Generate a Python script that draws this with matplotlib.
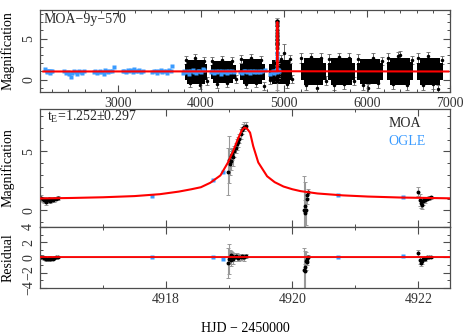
import numpy as np
import matplotlib.pyplot as plt
from matplotlib.ticker import MultipleLocator

plt.rcParams['font.family'] = ['Liberation Serif', 'DejaVu Serif']
plt.rcParams['mathtext.fontset'] = 'custom'
plt.rcParams['mathtext.rm'] = 'Liberation Serif'
plt.rcParams['mathtext.it'] = 'Liberation Serif:italic'
plt.rcParams['axes.unicode_minus'] = True

BLUE = '#3a9bff'

# ---------------------------------------------------------------------
# Data
# ---------------------------------------------------------------------
# model light curve (HJD-2450000, magnification)
model_t = [4916.0, 4916.5, 4917.0, 4917.5, 4917.9, 4918.2, 4918.4, 4918.55,
           4918.7, 4918.86, 4918.98, 4919.06, 4919.14, 4919.2, 4919.24,
           4919.28, 4919.33, 4919.38, 4919.46, 4919.6, 4919.72, 4919.86,
           4920.0, 4920.13, 4920.4, 4920.8, 4921.2, 4921.7, 4922.5]
model_a = [1.02, 1.06, 1.12, 1.22, 1.38, 1.6, 1.8, 1.97,
           2.35, 2.97, 4.07, 5.0, 6.1, 6.8, 7.03,
           6.95, 6.6, 5.45, 4.07, 2.9, 2.4, 2.03,
           1.8, 1.64, 1.44, 1.28, 1.18, 1.1, 1.03]
baseline_t = [2100, 6980]
baseline_a = [1.0, 1.0]

# MOA points around the event
moa_t = [4916.02, 4916.04, 4916.06, 4916.08, 4916.10, 4916.12, 4916.14,
         4916.16, 4916.18, 4916.20, 4916.22, 4916.25, 4916.28,
         4918.98, 4919.00, 4919.01, 4919.02, 4919.03, 4919.05, 4919.06,
         4919.08, 4919.10, 4919.12, 4919.14, 4919.16, 4919.18, 4919.20,
         4919.22, 4919.24, 4919.26,
         4920.19, 4920.195, 4920.20, 4920.21, 4920.23, 4920.24, 4920.25,
         4922.00, 4922.02, 4922.04, 4922.05, 4922.07, 4922.09, 4922.11,
         4922.14, 4922.17, 4922.20]
moa_a = [1.05, 0.95, 0.85, 0.9, 0.75, 0.85, 0.95,
         0.8, 0.9, 0.85, 0.95, 1.0, 1.05,
         3.3, 4.3, 3.9, 4.6, 4.2, 4.8, 4.5,
         5.0, 5.3, 5.6, 5.8, 6.1, 6.5, 6.8,
         7.0, 7.1, 7.2,
         0.05, -0.2, 0.4, 0.0, 0.95, 1.35, 1.6,
         1.6, 0.9, 0.6, 0.45, 0.8, 0.95, 0.85,
         1.0, 1.05, 1.1]
moa_err = [0.25, 0.2, 0.2, 0.2, 0.25, 0.2, 0.2,
           0.2, 0.2, 0.15, 0.2, 0.15, 0.15,
           2.0, 2.0, 0.9, 0.6, 0.8, 0.5, 0.7,
           0.5, 0.4, 0.5, 0.4, 0.4, 0.4, 0.3,
           0.3, 0.4, 0.3,
           2.9, 2.6, 0.5, 1.2, 0.4, 0.3, 0.2,
           0.4, 0.5, 0.4, 0.3, 0.3, 0.2, 0.2,
           0.15, 0.15, 0.15]
moa_res = [0.1, 0.0, -0.1, -0.05, -0.25, -0.15, -0.05,
           -0.2, -0.1, -0.15, -0.05, 0.0, 0.05,
           -0.7, -0.2, 0.1, 0.3, -0.3, 0.2, -0.2,
           0.1, 0.2, 0.1, -0.1, 0.0, 0.1, 0.2,
           0.1, 0.0, 0.2,
           -1.6, -1.8, -1.3, -0.5, -0.6, -0.2, 0.1,
           0.6, -0.3, -0.7, -0.5, -0.2, -0.1, -0.2,
           0.0, 0.05, 0.1]

# OGLE points around the event
ogle_t = [4917.78, 4918.75, 4918.90, 4920.72, 4921.76]
ogle_a = [1.2, 2.6, 3.3, 1.3, 1.12]
ogle_res = [0.05, 0.12, -0.2, 0.1, 0.2]

# 9-year light curve: OGLE (blue) points
ogle_long_t = [2125, 2140, 2150, 2160, 2172, 2185, 2198, 2210,
               2345, 2370, 2395, 2410, 2430, 2450, 2470, 2490, 2510, 2530, 2550, 2570, 2590,
               2705, 2725, 2745, 2765, 2785, 2805, 2825, 2845, 2865, 2885, 2905, 2925, 2950,
               3055, 3075, 3095, 3115, 3135, 3155, 3175, 3195, 3215, 3235, 3255, 3275, 3295,
               3415, 3435, 3455, 3475, 3495, 3515, 3535, 3555, 3575, 3595, 3615, 3635, 3655,
               3780, 3800, 3820, 3840, 3860, 3880, 3900, 3920, 3940, 3960, 3980, 4000, 4020, 4040,
               4115, 4135, 4155, 4175, 4195, 4215, 4235, 4255, 4275, 4295, 4315, 4335, 4355, 4375, 4400,
               4475, 4495, 4515, 4535, 4555, 4575, 4595, 4615, 4635, 4655, 4675, 4695, 4715, 4735, 4765,
               4835, 4850, 4865, 4880, 4895, 4910, 4925, 4940]
ogle_long_a = [1.3, 1.0, 0.9, 1.1, 1.0, 0.85, 1.0, 1.05,
               1.0, 0.85, 0.9, 0.75, 0.35, 0.8, 1.0, 0.9, 0.7, 1.1, 0.95, 0.85, 1.0,
               0.9, 1.0, 0.8, 0.95, 1.1, 0.9, 0.75, 1.2, 1.0, 0.9, 1.1, 1.0, 1.5,
               1.0, 1.1, 0.9, 1.2, 1.0, 1.15, 0.95, 1.3, 1.1, 1.0, 1.2, 0.9, 1.05,
               0.9, 1.0, 1.1, 0.8, 1.0, 1.2, 0.9, 1.1, 1.0, 0.85, 1.2, 1.1, 1.7,
               0.8, 1.0, 0.9, 1.1, 0.7, 1.0, 1.2, 0.9, 0.8, 1.0, 1.1, 0.9, 1.3, 1.2,
               0.9, 1.0, 0.8, 1.1, 0.9, 1.0, 0.75, 1.1, 0.9, 1.0, 0.85, 1.1, 0.95, 1.0, 0.9,
               0.9, 0.8, 1.0, 1.1, 0.9, 1.0, 0.85, 1.1, 0.9, 1.0, 0.95, 1.1, 0.9, 1.0, 1.2,
               0.7, 0.9, 1.0, 0.8, 1.1, 0.9, 1.2, 1.0]

# 9-year light curve: MOA seasons (dense black clouds)
# wide, shorter part of each cloud
moa_season_start = [3805, 4115, 4465, 4815, 5200, 5535, 5885, 6245, 6605]
moa_season_end = [4075, 4425, 4765, 5100, 5510, 5850, 6190, 6550, 6910]
moa_wide_lo = [0.0, 0.05, 0.0, 0.0, -0.05, -0.05, 0.0, -0.05, -0.05]
moa_wide_hi = [1.9, 1.85, 1.95, 1.9, 2.05, 2.05, 2.0, 2.1, 2.05]
# narrower, taller middle part of each cloud
moa_mid_start = [3835, 4150, 4500, 4850, 5235, 5570, 5920, 6280, 6640]
moa_mid_end = [4045, 4390, 4730, 5070, 5475, 5815, 6155, 6515, 6875]
moa_mid_lo = [-0.5, -0.4, -0.5, -0.5, -0.6, -0.6, -0.5, -0.6, -0.6]
moa_mid_hi = [2.4, 2.3, 2.5, 2.4, 2.6, 2.6, 2.5, 2.7, 2.6]

# a few scattered MOA points with error bars at the cloud edges
moa_edge_t = [3820, 3870, 3930, 3990, 4040, 4070,
              4130, 4190, 4250, 4310, 4370, 4420,
              4480, 4540, 4600, 4660, 4720, 4760,
              4830, 4960, 5000, 5040, 5070, 5100,
              5210, 5270, 5330, 5400, 5450, 5500,
              5545, 5600, 5660, 5720, 5780, 5840,
              5895, 5950, 6010, 6070, 6130, 6185,
              6255, 6310, 6370, 6400, 6480, 6545,
              6615, 6680, 6740, 6800, 6860, 6905]
moa_edge_a = [2.4, -0.4, 2.6, -0.6, 2.3, -0.2,
              2.3, -0.5, 2.4, -0.4, 2.3, 0.1,
              2.5, -0.5, 2.6, -0.4, 2.4, -0.8,
              0.0, 2.5, 3.3, -0.5, 2.5, 0.1,
              2.6, -0.6, 2.8, -1.0, 2.6, -0.1,
              2.5, -0.6, 2.8, -0.5, 2.6, -0.2,
              2.5, -0.6, -1.0, 2.7, -0.4, 2.3,
              2.6, -0.5, 2.9, 3.0, -0.6, 2.4,
              2.6, -0.6, 2.9, -0.5, -1.1, 2.4]
moa_edge_err = [0.5, 0.5, 0.5, 0.5, 0.5, 0.5,
                0.5, 0.5, 0.5, 0.5, 0.5, 0.5,
                0.5, 0.5, 0.5, 0.5, 0.5, 0.5,
                0.5, 0.5, 1.0, 0.5, 0.5, 0.5,
                0.6, 0.6, 0.5, 0.5, 0.6, 0.5,
                0.6, 0.6, 0.5, 0.6, 0.6, 0.5,
                0.6, 0.6, 0.5, 0.5, 0.6, 0.5,
                0.6, 0.6, 0.5, 0.5, 0.6, 0.5,
                0.6, 0.6, 0.5, 0.6, 0.4, 0.5]

event_major_ticks = [4918, 4920, 4922]
event_minor_ticks = [4917, 4919, 4921]

# ---------------------------------------------------------------------
# Figure
# ---------------------------------------------------------------------
fig = plt.figure(figsize=(4.63, 3.35), dpi=100)
ax_top = fig.add_axes([0.0864, 0.7254, 0.8856, 0.2448])
ax_main = fig.add_axes([0.0864, 0.3224, 0.8856, 0.3522])
ax_res = fig.add_axes([0.0864, 0.1403, 0.8856, 0.1821])

spine_col = '0.3'
for ax in (ax_top, ax_main, ax_res):
    for s in ax.spines.values():
        s.set_color(spine_col)
        s.set_linewidth(0.9)
    ax.tick_params(which='both', direction='in', top=True, right=True,
                   colors=spine_col, labelcolor='0.2', labelsize=10)
    ax.tick_params(which='major', length=5, width=0.8)
    ax.tick_params(which='minor', length=2.5, width=0.7)
    ax.tick_params(axis='y', labelrotation=90)

ebar_style = dict(fmt='o', ms=1.8, color='black', ecolor='0.6',
                  elinewidth=0.8, capsize=1.2, capthick=0.7)

# --- top: 9-year light curve ---
ax_top.errorbar(moa_edge_t, moa_edge_a, yerr=moa_edge_err, fmt='o', ms=1.5,
                color='black', ecolor='0.4', elinewidth=0.7, capsize=1.2,
                capthick=0.6, zorder=1)
ax_top.bar(moa_season_start,
           np.array(moa_wide_hi) - np.array(moa_wide_lo),
           bottom=moa_wide_lo,
           width=np.array(moa_season_end) - np.array(moa_season_start),
           align='edge', color='black', linewidth=0, zorder=2)
ax_top.bar(moa_mid_start,
           np.array(moa_mid_hi) - np.array(moa_mid_lo),
           bottom=moa_mid_lo,
           width=np.array(moa_mid_end) - np.array(moa_mid_start),
           align='edge', color='black', linewidth=0, zorder=2)
ax_top.errorbar(moa_t, moa_a, yerr=moa_err, zorder=2, **ebar_style)
ax_top.plot(ogle_long_t, ogle_long_a, 's', ms=2.2, color=BLUE, mec='none', zorder=3)
ax_top.plot(ogle_t, ogle_a, 's', ms=2.2, color=BLUE, mec='none', zorder=3)
ax_top.plot(baseline_t[:1] + model_t + baseline_t[1:],
            baseline_a[:1] + model_a + baseline_a[1:],
            color='red', lw=1.5, zorder=4)
ax_top.set_xlim(2060, 7000)
ax_top.set_ylim(-1.5, 8.5)
ax_top.xaxis.set_major_locator(MultipleLocator(1000))
ax_top.xaxis.set_minor_locator(MultipleLocator(200))
ax_top.yaxis.set_major_locator(MultipleLocator(5))
ax_top.yaxis.set_minor_locator(MultipleLocator(1))
ax_top.set_ylabel('Magnification', fontsize=10)
ax_top.yaxis.set_label_coords(-0.062, 0.5)
ax_top.text(0.008, 0.89, 'MOA\u22129y\u2212570', transform=ax_top.transAxes,
            ha='left', va='center', fontsize=10, color='0.15')

# --- main: zoom on the event ---
ax_main.errorbar(moa_t, moa_a, yerr=moa_err, zorder=2, **ebar_style)
ax_main.plot(ogle_t, ogle_a, 's', ms=2.2, color=BLUE, mec='none', zorder=3)
ax_main.plot(model_t, model_a, color='red', lw=1.5, zorder=4)
ax_main.set_xlim(4916.0, 4922.5)
ax_main.set_ylim(-1.4, 8.6)
ax_main.set_xticks(event_major_ticks)
ax_main.set_xticks(event_minor_ticks, minor=True)
ax_main.yaxis.set_major_locator(MultipleLocator(5))
ax_main.yaxis.set_minor_locator(MultipleLocator(1))
ax_main.tick_params(labelbottom=False)
ax_main.set_ylabel('Magnification', fontsize=10)
ax_main.yaxis.set_label_coords(-0.062, 0.5)
ax_main.text(0.018, 0.93, r'$\mathrm{t_E}$=1.252' + '\u00b1' + '0.297',
             transform=ax_main.transAxes, ha='left', va='center', fontsize=10, color='0.15')
ax_main.text(0.849, 0.873, 'MOA', transform=ax_main.transAxes,
             ha='left', va='center', fontsize=10, color='0.15')
ax_main.text(0.849, 0.725, 'OGLE', transform=ax_main.transAxes,
             ha='left', va='center', fontsize=10, color=BLUE)

# --- residuals ---
ax_res.axhline(0.12, color='0.45', lw=0.8, zorder=1)
ax_res.errorbar(moa_t, moa_res, yerr=moa_err, zorder=2, **ebar_style)
ax_res.plot(ogle_t, ogle_res, 's', ms=2.2, color=BLUE, mec='none', zorder=3)
ax_res.axhline(0.0, color='red', lw=1.3, zorder=4)
ax_res.set_xlim(4916.0, 4922.5)
ax_res.set_ylim(-4, 4)
ax_res.set_xticks(event_major_ticks)
ax_res.set_xticks(event_minor_ticks, minor=True)
ax_res.yaxis.set_major_locator(MultipleLocator(2))
ax_res.yaxis.set_minor_locator(MultipleLocator(1))
ax_res.set_ylabel('Residual', fontsize=10)
ax_res.yaxis.set_label_coords(-0.062, 0.5)
ax_res.set_xlabel('HJD \u2212 2450000', fontsize=10)
ax_res.xaxis.set_label_coords(0.5, -0.56)

for ax in (ax_top, ax_main, ax_res):
    for lab in ax.get_yticklabels():
        lab.set_va('center')

fig.savefig('out.png', dpi=100)
